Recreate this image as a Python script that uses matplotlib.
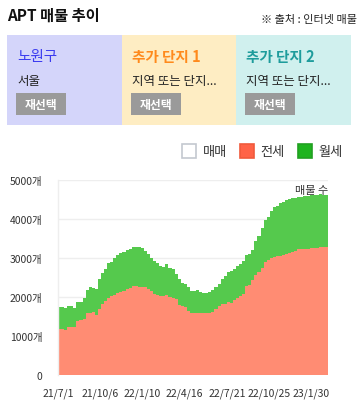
import numpy as np
import matplotlib
matplotlib.use("Agg")
import matplotlib.pyplot as plt
from matplotlib.patches import Rectangle

plt.rcParams['font.family'] = ['Noto Sans CJK KR', 'DejaVu Sans']

# ---------------- data ----------------
start_date = "2021-07-01"
step_days = 7
jeonse = [1187, 1187, 1152, 1239, 1239, 1229, 1374, 1400, 1443, 1597,
          1597, 1622, 1546, 1700, 1830, 1900, 1975, 2020, 2060, 2110,
          2125, 2140, 2195, 2237, 2280, 2290, 2263, 2263, 2245, 2190,
          2143, 2070, 2058, 2030, 2024, 2050, 2000, 1981, 1950, 1800,
          1755, 1730, 1640, 1600, 1597, 1585, 1575, 1575, 1575, 1580,
          1620, 1700, 1775, 1827, 1827, 1865, 1855, 1910, 1960, 2030,
          2066, 2270, 2296, 2440, 2565, 2630, 2730, 2890, 2950, 2990,
          3020, 3050, 3058, 3064, 3088, 3125, 3150, 3175, 3218, 3218,
          3235, 3220, 3250, 3240, 3255, 3270, 3286, 3270]
wolse = [563, 563, 573, 528, 528, 496, 495, 469, 538, 583,
         666, 618, 666, 750, 780, 820, 905, 883, 940, 970,
         1000, 1020, 1005, 983, 990, 997, 1017, 988, 930, 910,
         857, 840, 822, 760, 742, 780, 730, 729, 630, 670,
         605, 600, 610, 560, 563, 580, 555, 530, 525, 545,
         550, 560, 565, 643, 718, 765, 795, 810, 820, 810,
         854, 800, 794, 760, 875, 920, 1030, 1090, 1100, 1200,
         1290, 1280, 1352, 1365, 1387, 1385, 1375, 1360, 1327, 1342,
         1340, 1360, 1350, 1370, 1365, 1355, 1329, 1340]
tick_dates = ["2021-07-01", "2021-10-06", "2022-01-10", "2022-04-16",
              "2022-07-21", "2022-10-25", "2023-01-30"]
tick_labels = ["21/7/1", "21/10/6", "22/1/10", "22/4/16",
               "22/7/21", "22/10/25", "23/1/30"]
y_ticks = [0, 1000, 2000, 3000, 4000, 5000]
y_tick_labels = ["0", "1000개", "2000개", "3000개", "4000개", "5000개"]
legend_names = ["매매", "전세", "월세"]
panel_titles = ["노원구", "추가 단지 1", "추가 단지 2"]
panel_subs = ["서울", "지역 또는 단지...", "지역 또는 단지..."]

# ---------------- figure ----------------
W, H = 360, 406
fig = plt.figure(figsize=(W / 100, H / 100), dpi=100)
fig.patch.set_facecolor('white')

bg = fig.add_axes([0, 0, 1, 1], zorder=0)
bg.set_xlim(0, W)
bg.set_ylim(H, 0)
bg.axis('off')

bg.text(7, 16, "APT 매물 추이", fontsize=11, fontweight='bold',
        color='#111111', va='center', ha='left')
bg.text(357, 20, "※ 출처 : 인터넷 매물", fontsize=8, color='#222222',
        va='center', ha='right')

panel_x = [7, 122, 236]
panel_w = [115, 114, 115]
panel_bg = ['#D4D5FA', '#FEEDC3', '#D0F0EE']
panel_fg = ['#3B3BF0', '#FF8A1C', '#1E9C9C']
for i in range(3):
    x0 = panel_x[i]
    bg.add_patch(Rectangle((x0, 36), panel_w[i], 90, facecolor=panel_bg[i],
                           edgecolor='none'))
    bg.text(x0 + 10, 57, panel_titles[i], fontsize=10.5, color=panel_fg[i],
            va='center', ha='left', fontweight='bold' if i else 'normal')
    bg.text(x0 + 10, 81, panel_subs[i], fontsize=9, color='#222222',
            va='center', ha='left')
    bg.add_patch(Rectangle((x0 + 9, 94), 50, 22, facecolor='#9A9A9A',
                           edgecolor='none'))
    bg.text(x0 + 34, 105, "재선택", fontsize=8.5, color='white',
            fontweight='bold', va='center', ha='center')

# legend
leg_box_x = [182, 240, 298]
leg_txt_x = [203, 260, 318]
leg_face = ['white', '#FF6347', '#1EB41E']
leg_edge = ['#C4C8D0', '#F05A3C', '#22A022']
for i in range(3):
    bg.add_patch(Rectangle((leg_box_x[i], 145), 14, 14, facecolor=leg_face[i],
                           edgecolor=leg_edge[i], linewidth=1.2))
    bg.text(leg_txt_x[i], 152.5, legend_names[i], fontsize=9.5,
            color='#333333', va='center', ha='left')

# ---------------- chart ----------------
left, right, top, bottom = 58, 328, 180.7, 376
ax = fig.add_axes([left / W, 1 - bottom / H, (right - left) / W, (bottom - top) / H],
                  zorder=1)
ax.set_facecolor('none')

start = np.datetime64(start_date)
n = len(jeonse)
edges = start + np.arange(n + 1) * np.timedelta64(step_days, 'D')
jeonse_arr = np.array(jeonse, dtype=float)
total_arr = jeonse_arr + np.array(wolse, dtype=float)
j_ext = np.append(jeonse_arr, jeonse_arr[-1])
t_ext = np.append(total_arr, total_arr[-1])

ax.fill_between(edges, 0, j_ext, step='post', color='#FF8C73',
                linewidth=0, zorder=2)
ax.fill_between(edges, j_ext, t_ext, step='post', color='#55C94D',
                linewidth=0, zorder=2)

ax.set_xlim(edges[0], edges[-1])
ax.set_ylim(0, 5000)

ax.set_yticks(y_ticks)
ax.set_yticklabels(y_tick_labels, fontsize=7.5, color='#333333')
ax.set_xticks(np.array(tick_dates, dtype='datetime64[D]'))
ax.set_xticklabels(tick_labels, fontsize=7.5, color='#333333')
ax.tick_params(axis='both', length=0)
ax.tick_params(axis='y', pad=11)
ax.tick_params(axis='x', pad=9)

for yv in y_ticks[1:]:
    ax.axhline(yv, color='#EEEEEE', linewidth=1, zorder=1)
for s in ['top', 'right', 'bottom']:
    ax.spines[s].set_visible(False)
ax.spines['left'].set_color('#EEEEEE')
ax.spines['left'].set_linewidth(1)

ax.text(1.0, 0.947, "매물 수", transform=ax.transAxes, fontsize=8,
        color='#333333', ha='right', va='center', zorder=3)

fig.savefig("out.png", dpi=100)
